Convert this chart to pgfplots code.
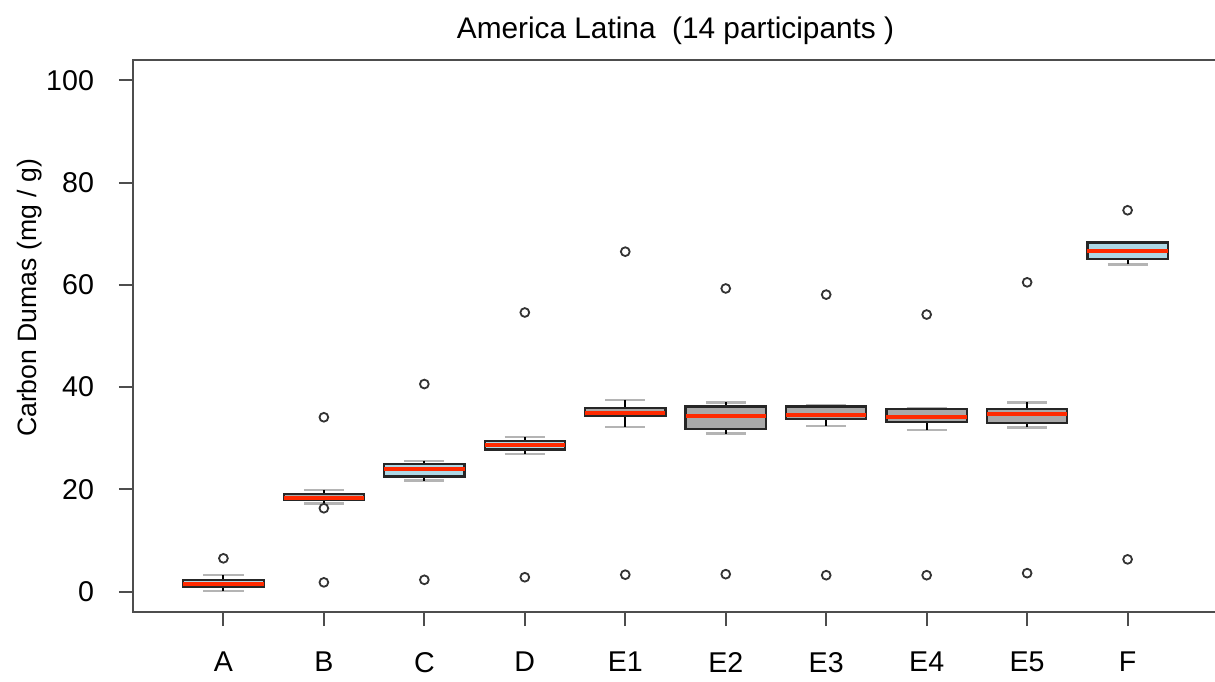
\documentclass[border=0pt]{standalone}
\usepackage{fontspec}
\setmainfont{Liberation Sans}
\usepackage{pgfplots}
\pgfplotsset{compat=1.18}
\usepgfplotslibrary{statistics}
\definecolor{boxblue}{HTML}{ADD8E6}
\definecolor{boxgray}{HTML}{A9A9A9}
\definecolor{medred}{HTML}{FF2A00}
\definecolor{capgray}{HTML}{B4B4B4}
\definecolor{framegray}{HTML}{4D4D4D}
\begin{document}
\begin{tikzpicture}
\path[use as bounding box] (-66.5pt,-34.5pt) rectangle (541pt,306pt);
\begin{axis}[
  at={(0,0)}, anchor=south west, scale only axis,
  width=542.5pt, height=276pt,
  xmin=-0.9, xmax=9.9, ymin=-4, ymax=104,
  xtick={0,...,9}, xticklabels={A,B,C,D,E1,E2,E3,E4,E5,F},
  ytick={0,20,...,100},
  tick align=outside, major tick length=7pt,
  xtick pos=left, ytick pos=left,
  tick style={framegray, line width=1pt},
  axis line style={framegray, line width=1.1pt},
  ticklabel style={font=\fontsize{14.3}{16}\selectfont},
  yticklabel style={xshift=-9pt},
  xticklabel style={yshift=-9.5pt},
  /pgf/number format/assume math mode=true,
  ylabel={Carbon Dumas (mg / g)},
  every axis y label/.style={at={(axis description cs:-0.095,0.569)}, rotate=90, anchor=center, font=\fontsize{13.3}{15}\selectfont},
  title={America Latina\ \ (14 participants )},
  title style={at={(axis description cs:0.5,1)}, anchor=center, yshift=8.5pt, font=\fontsize{14.9}{17}\selectfont},
  boxplot/draw direction=y,
  boxplot/box extend=0.8,
  boxplot/whisker extend=0.4,
  boxplot/every median/.style={medred, line width=2pt},
  boxplot/every box/.style={draw=black!85, line width=1.1pt},
  boxplot/every whisker/.style={line width=1pt},
  boxplot/draw/lower whisker/.code={%
    \draw[capgray, line width=1.2pt] (boxplot whisker cs:\pgfplotsboxplotvalue{lower whisker},0) -- (boxplot whisker cs:\pgfplotsboxplotvalue{lower whisker},1);
    \draw[black, line width=1pt] (boxplot cs:\pgfplotsboxplotvalue{lower whisker}) -- (boxplot cs:\pgfplotsboxplotvalue{lower quartile});
  },
  boxplot/draw/upper whisker/.code={%
    \draw[capgray, line width=1.2pt] (boxplot whisker cs:\pgfplotsboxplotvalue{upper whisker},0) -- (boxplot whisker cs:\pgfplotsboxplotvalue{upper whisker},1);
    \draw[black, line width=1pt] (boxplot cs:\pgfplotsboxplotvalue{upper whisker}) -- (boxplot cs:\pgfplotsboxplotvalue{upper quartile});
  },
  outl/.style={black, mark=o, mark size=2.2pt, mark options={line width=0.9pt, fill=none, draw=black!80}},
]
% A
\addplot[boxplot prepared={draw position=0, median=1.5, lower quartile=1.0, upper quartile=2.3, lower whisker=0.1, upper whisker=3.2}, boxplot/every box/.append style={fill=boxblue}, outl] coordinates {(0,6.5)};
% B
\addplot[boxplot prepared={draw position=1, median=18.4, lower quartile=17.9, upper quartile=19.1, lower whisker=17.2, upper whisker=19.9}, boxplot/every box/.append style={fill=boxgray}, outl] coordinates {(1,1.8) (1,16.3) (1,34.1)};
% C
\addplot[boxplot prepared={draw position=2, median=23.9, lower quartile=22.5, upper quartile=25.0, lower whisker=21.7, upper whisker=25.6}, boxplot/every box/.append style={fill=boxblue}, outl] coordinates {(2,2.3) (2,40.6)};
% D
\addplot[boxplot prepared={draw position=3, median=28.6, lower quartile=27.8, upper quartile=29.5, lower whisker=26.9, upper whisker=30.2}, boxplot/every box/.append style={fill=boxblue}, outl] coordinates {(3,2.8) (3,54.6)};
% E1
\addplot[boxplot prepared={draw position=4, median=35.0, lower quartile=34.3, upper quartile=35.9, lower whisker=32.2, upper whisker=37.5}, boxplot/every box/.append style={fill=boxgray}, outl] coordinates {(4,3.3) (4,66.5)};
% E2
\addplot[boxplot prepared={draw position=5, median=34.4, lower quartile=31.8, upper quartile=36.2, lower whisker=30.9, upper whisker=37.0}, boxplot/every box/.append style={fill=boxgray}, outl] coordinates {(5,3.4) (5,59.3)};
% E3
\addplot[boxplot prepared={draw position=6, median=34.6, lower quartile=33.8, upper quartile=36.2, lower whisker=32.4, upper whisker=36.5}, boxplot/every box/.append style={fill=boxgray}, outl] coordinates {(6,3.2) (6,58.1)};
% E4
\addplot[boxplot prepared={draw position=7, median=34.1, lower quartile=33.1, upper quartile=35.7, lower whisker=31.6, upper whisker=35.8}, boxplot/every box/.append style={fill=boxgray}, outl] coordinates {(7,3.2) (7,54.2)};
% E5
\addplot[boxplot prepared={draw position=8, median=34.7, lower quartile=33.0, upper quartile=35.7, lower whisker=32.1, upper whisker=37.0}, boxplot/every box/.append style={fill=boxgray}, outl] coordinates {(8,3.6) (8,60.5)};
% F
\addplot[boxplot prepared={draw position=9, median=66.6, lower quartile=65.0, upper quartile=68.3, lower whisker=64.0, upper whisker=68.4}, boxplot/every box/.append style={fill=boxblue}, outl] coordinates {(9,6.3) (9,74.6)};
\end{axis}
\end{tikzpicture}
\end{document}
